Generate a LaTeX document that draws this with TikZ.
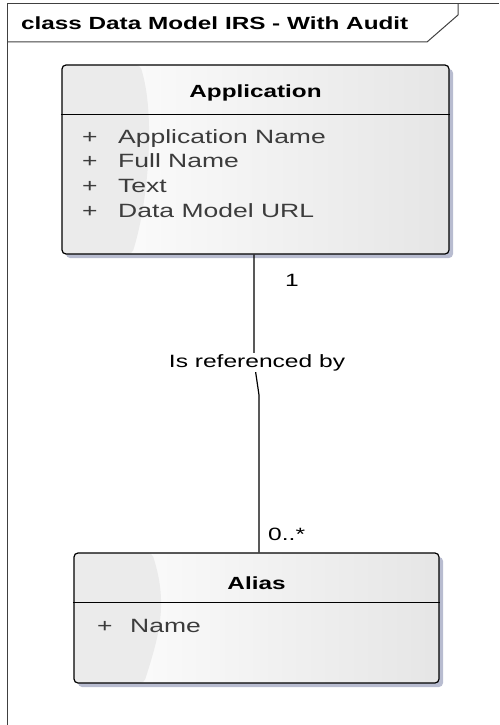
\documentclass[tikz,border=0pt]{standalone}
\usepackage{fontspec}
\setmainfont[FakeStretch=1.38]{Liberation Sans}
\usetikzlibrary{shadows}
\definecolor{frameline}{RGB}{64,64,64}
\definecolor{shadowblue}{RGB}{184,188,208}
\definecolor{bandgray}{RGB}{235,235,235}
\definecolor{attrgray}{RGB}{60,60,60}

\tikzset{
  classbox/.style={draw, line width=1.2pt, rounded corners=4pt, inner sep=0pt,
    left color=white, right color=black!10,
    drop shadow={shadow xshift=4pt, shadow yshift=-4pt, fill=shadowblue, opacity=1},
    path picture={\fill[bandgray] (path picture bounding box.north west)
      -- ([xshift=78pt]path picture bounding box.north west)
      .. controls +(16pt,-50pt) and +(16pt,50pt) .. ([xshift=70pt]path picture bounding box.south west)
      -- (path picture bounding box.south west) -- cycle;}},
  classname/.style={font=\fontsize{17.6}{20}\selectfont\bfseries, inner sep=0pt},
  attr/.style={font=\fontsize{19.2}{22}\selectfont, text=attrgray, inner sep=0pt, anchor=base west},
  assoclabel/.style={font=\fontsize{17.8}{20}\selectfont, inner sep=0pt}
}

\begin{document}
\begin{tikzpicture}[x=1pt,y=-1pt]
\useasboundingbox (0,0) rectangle (499,725);
% Frame
\draw[frameline, line width=1pt] (7,725) -- (7,4) -- (499,4);
\draw[frameline, line width=1pt] (7,42) -- (427,42) -- (458,15) -- (458,4);
\node[classname, anchor=base west] (frametitle) at (21,29.5) {class Data Model IRS - With Audit};

% Application
\node[classbox, minimum width=387pt, minimum height=189pt] (app) at (255.5,159.5) {};
\draw[line width=1pt] ([yshift=-50pt]app.north west) -- ([yshift=-50pt]app.north east);
\node[classname] (apptitle) at (255.5,93) {Application};
\foreach \txt [count=\i] in {Application Name, Full Name, Text, Data Model URL} {
  \node[attr] (appplus\i) at (82,143+24.7*\i-24.7) {+};
  \node[attr] (appattr\i) at (118,143+24.7*\i-24.7) {\txt};
}

% Alias
\node[classbox, minimum width=365pt, minimum height=130pt] (alias) at (256.5,618) {};
\draw[line width=1pt] ([yshift=-50pt]alias.north west) -- ([yshift=-50pt]alias.north east);
\node[classname] (aliastitle) at (256.5,583) {Alias};
\node[attr] (aliasplus) at (97,632) {+};
\node[attr] (aliasattr) at (130,632) {Name};

% Association
\coordinate (bendtop) at (254,361);
\coordinate (bendlow) at (259,395);
\draw[line width=1.2pt] (app.south -| bendtop) -- (bendtop) -- (bendlow) -- (alias.north -| bendlow);
\node[assoclabel, fill=white, inner sep=1pt, anchor=base] (assocname) at (257,367) {Is referenced by};
\node[assoclabel, anchor=base] (multapp) at (292,286) {1};
\node[assoclabel, anchor=base west] (multalias) at (268,540) {0..*};
\end{tikzpicture}
\end{document}
